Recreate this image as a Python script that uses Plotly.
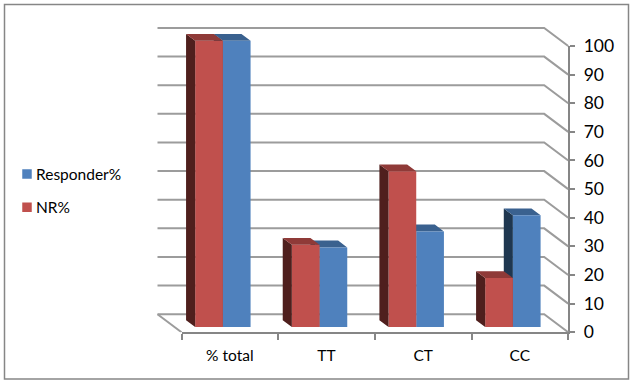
import plotly.graph_objects as go

categories = ["% total", "TT", "CT", "CC"]
responder = [100, 27.8, 33.4, 39]
nr = [100, 28.7, 54.4, 17.1]
value_ticks = [0, 10, 20, 30, 40, 50, 60, 70, 80, 90, 100]

W, H = 633, 386
PX_L, PX_R, PX_B, PX_T = 181.5, 568.2, 332.2, 46.0
CAT_PX = (PX_R - PX_L) / 4
VAL_PX = (PX_B - PX_T) / 100
DX, DY = -24 / CAT_PX, 18 / VAL_PX      # oblique depth vector, data units
F, B = 0.29, 0.67                      # bar front / back position in the depth
BAR_W = 27.7 / CAT_PX
X_LO, X_HI, Y_HI = -0.27, 4.02, 108.0   # wider range for the layers that hold the 3-D faces

RED, RED_SIDE, RED_TOP = "#C0504D", "#4F1F1D", "#8F3A38"
BLUE, BLUE_SIDE, BLUE_TOP = "#4F81BD", "#1F3750", "#3A618F"
GRID = "#9C9C9C"
FONT = "Lato"

centers = [i + 0.5 for i in range(len(categories))]


def faces(vals, off):
    sx, sy, tx, ty = [], [], [], []
    for c, v in zip(centers, vals):
        x0 = c + off - BAR_W / 2 + F * DX
        x1 = x0 + BAR_W
        bx = (B - F) * DX
        y0 = F * DY
        top = y0 + v
        by = (B - F) * DY
        sx += [x0, x0 + bx, x0 + bx, x0, x0, None]
        sy += [y0, y0 + by, top + by, top, y0, None]
        tx += [x0, x0 + bx, x1 + bx, x1, x0, None]
        ty += [top, top + by, top + by, top, top, None]
    return sx, sy, tx, ty


def poly(x, y, color, xa, ya):
    return go.Scatter(x=x, y=y, mode="lines", fill="toself", fillcolor=color,
                      line=dict(width=0, color=color), hoverinfo="skip",
                      showlegend=False, xaxis=xa, yaxis=ya)


fig = go.Figure()

# layer 1: the value axis and the category ticks; the legend entries live here
for name, col in [("Responder%", BLUE), ("NR%", RED)]:
    fig.add_trace(go.Scatter(x=[None], y=[None], mode="markers", name=name, legendgroup=name,
                             marker=dict(symbol="square", size=9.5, color=col), xaxis="x", yaxis="y"))

# layer 2: back wall and side wall gridlines, blue side and top faces
gx, gy = [], []
for v in value_ticks:
    gx += [DX, 4 + DX, 4, None]
    gy += [v + DY, v + DY, v, None]
gx += [DX, 0]
gy += [DY, 0]
fig.add_trace(go.Scatter(x=gx, y=gy, mode="lines", line=dict(color=GRID, width=2),
                         hoverinfo="skip", showlegend=False, xaxis="x2", yaxis="y2"))
bs = faces(responder, BAR_W / 2)
rs = faces(nr, -BAR_W / 2)
fig.add_trace(poly(bs[0], bs[1], BLUE_SIDE, "x2", "y2"))
fig.add_trace(poly(bs[2], bs[3], BLUE_TOP, "x2", "y2"))

# layer 3: front faces as bars, red side and top faces
fig.add_trace(go.Bar(x=[c + BAR_W / 2 + F * DX for c in centers], y=responder,
                     base=[F * DY] * 4, width=BAR_W, marker=dict(color=BLUE, line=dict(width=0)),
                     showlegend=False, xaxis="x3", yaxis="y3"))
fig.add_trace(go.Bar(x=[c - BAR_W / 2 + F * DX for c in centers], y=nr,
                     base=[F * DY] * 4, width=BAR_W, marker=dict(color=RED, line=dict(width=0)),
                     showlegend=False, xaxis="x3", yaxis="y3"))
fig.add_trace(poly(rs[0], rs[1], RED_SIDE, "x3", "y3"))
fig.add_trace(poly(rs[2], rs[3], RED_TOP, "x3", "y3"))

axcol = "#868686"
xdom = [PX_L / W, PX_R / W]
ydom = [1 - PX_B / H, 1 - PX_T / H]
xdom2 = [(PX_L + X_LO * CAT_PX) / W, (PX_L + X_HI * CAT_PX) / W]
ydom2 = [1 - PX_B / H, 1 - (PX_B - Y_HI * VAL_PX) / H]
hidden = dict(showgrid=False, zeroline=False, showline=False, showticklabels=False, ticks="",
              fixedrange=True, automargin=False)
fig.update_layout(
    template="none",
    width=W, height=H, autosize=False, margin=dict(l=0, r=0, t=0, b=0, pad=0),
    paper_bgcolor="white", plot_bgcolor="rgba(0,0,0,0)", barmode="overlay",
    font=dict(family=FONT, color="black", size=15.5),
    xaxis=dict(domain=xdom, range=[0, 4], tickvals=list(range(5)), showticklabels=False,
               ticks="outside", ticklen=6, tickcolor=axcol, tickwidth=1.5, showline=True, linecolor=axcol,
               linewidth=2, showgrid=False, zeroline=False, anchor="y", fixedrange=True, automargin=False),
    yaxis=dict(domain=ydom, range=[0, 100], side="right", tickvals=value_ticks, ticks="outside",
               ticklen=5, tickcolor=axcol, tickwidth=1.5, showline=True, linecolor=axcol, linewidth=2,
               showgrid=False, zeroline=False, anchor="x", tickfont=dict(size=17.5, family=FONT),
               ticklabelstandoff=5, fixedrange=True, automargin=False),
    xaxis2=dict(domain=xdom2, range=[X_LO, X_HI], anchor="y2", **hidden),
    yaxis2=dict(domain=ydom2, range=[0, Y_HI], anchor="x2", **hidden),
    xaxis3=dict(domain=xdom2, range=[X_LO, X_HI], anchor="y3", tickvals=centers, ticktext=categories,
                ticks="outside", ticklen=9, tickcolor="rgba(0,0,0,0)", showgrid=False, zeroline=False,
                showline=False, tickfont=dict(size=15.5, family=FONT), fixedrange=True, automargin=False),
    yaxis3=dict(domain=ydom2, range=[0, Y_HI], anchor="x3", **hidden),
    legend=dict(x=0, xanchor="left", y=1 - 191 / H, yanchor="middle", tracegroupgap=10,
                font=dict(size=15.5, family=FONT), bgcolor="rgba(0,0,0,0)"),
    shapes=[dict(type="rect", xref="paper", yref="paper", x0=4.5 / W, x1=628.5 / W,
                 y0=1 - 379 / H, y1=1 - 4.5 / H, line=dict(color=axcol, width=1.5), layer="below")],
)

tweak = """
document.body.style.margin='0';
document.querySelectorAll('.legendpoints').forEach(function(g){g.setAttribute('transform','translate(7,0)');});
document.querySelectorAll('.legendtext').forEach(function(t){t.setAttribute('x','36');});
"""
fig.write_html("out.html", post_script=tweak, config={"displayModeBar": False})
